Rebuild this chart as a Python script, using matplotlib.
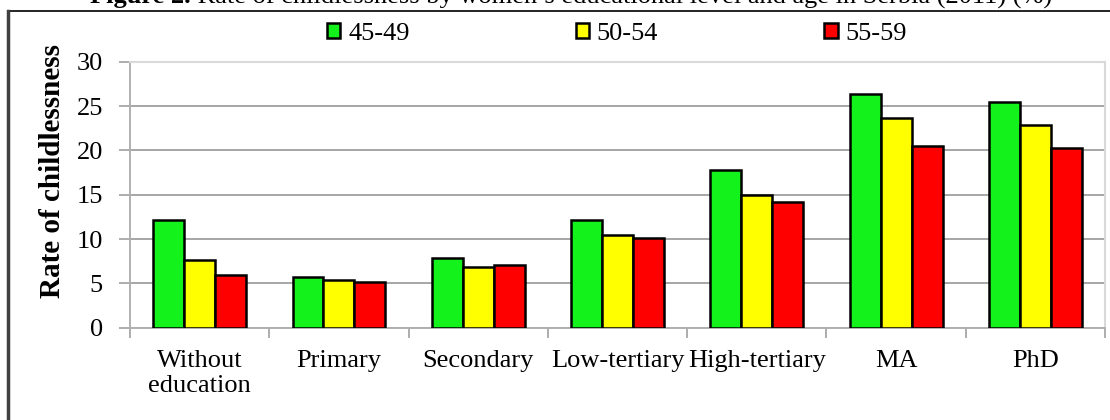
import numpy as np
import matplotlib
matplotlib.use("Agg")
import matplotlib.pyplot as plt
from matplotlib.lines import Line2D

# data
categories = ["Without\neducation", "Primary", "Secondary", "Low-tertiary",
              "High-tertiary", "MA", "PhD"]
age_groups = ["45-49", "50-54", "55-59"]
rate_45_49 = [12.2, 5.7, 7.9, 12.1, 17.8, 26.4, 25.5]
rate_50_54 = [7.6, 5.4, 6.9, 10.4, 15.0, 23.7, 22.9]
rate_55_59 = [6.0, 5.2, 7.1, 10.1, 14.2, 20.5, 20.3]
colors = ["#13f21b", "#ffff00", "#ff0000"]

plt.rcParams['font.family'] = ['Liberation Serif', 'DejaVu Serif']
FS = 19

W, H = 1110, 420
fig = plt.figure(figsize=(W / 100, H / 100), dpi=100)

# axes placed in pixel terms
left, right, top, bottom = 130, 1105, 61.7, 327.7
ax = fig.add_axes([left / W, 1 - bottom / H, (right - left) / W, (bottom - top) / H])

x = np.arange(len(categories))
bw = 1 / 4.5
series = [rate_45_49, rate_50_54, rate_55_59]
for i, (vals, c, lab) in enumerate(zip(series, colors, age_groups)):
    ax.bar(x + (i - 1) * bw, vals, bw, color=c, edgecolor="black",
           linewidth=1.8, label=lab, zorder=3)

ax.set_xlim(-0.5, len(categories) - 0.5)
ax.set_ylim(0, 30)
ax.set_yticks(range(0, 31, 5))
ax.yaxis.grid(True, color="#a6a6a6", linewidth=1.4, zorder=0)
ax.set_axisbelow(True)

ax.set_xticks(x)
ax.set_xticklabels(categories, fontsize=FS, linespacing=1.2)
ax.set_xticks(np.arange(-0.5, len(categories), 1), minor=True)
ax.tick_params(axis="x", which="major", length=0, pad=16)
ax.tick_params(axis="x", which="minor", length=7, width=1.2, color="#a0a0a0")
ax.tick_params(axis="y", length=8, width=1.2, color="#a0a0a0", labelsize=FS, pad=11.5)

for s in ["top", "right"]:
    ax.spines[s].set_color("#d9d9d9")
    ax.spines[s].set_linewidth(1.5)
for s in ["left", "bottom"]:
    ax.spines[s].set_color("#b0b0b0")
    ax.spines[s].set_linewidth(1.4)

fig.text(53 / W, 1 - 171 / H, "Rate of childlessness", rotation=90,
         fontsize=21, fontweight="bold", ha="center", va="center")

leg = fig.legend(loc="center", bbox_to_anchor=(617 / W, 1 - 34 / H), ncol=3,
                 frameon=False, fontsize=FS, handlelength=0.5, handleheight=0.5,
                 handletextpad=0.3, columnspacing=6.3, borderaxespad=0)

# title: bold lead plus regular text, mostly clipped at the top edge
renderer = fig.canvas.get_renderer()
t_y = 1 - 3.5 / H
t1 = fig.text(0, t_y, "Figure 2.", fontsize=FS, fontweight="bold", va="baseline")
t2 = fig.text(0, t_y, " Rate of childlessness by women\u2019s educational level and age in Serbia (2011) (%)",
              fontsize=FS, va="baseline")
w1 = t1.get_window_extent(renderer).width
w2 = t2.get_window_extent(renderer).width
x0 = 571 - (w1 + w2) / 2
t1.set_x(x0 / W)
t2.set_x((x0 + w1) / W)

# outer chart frame
fig.add_artist(Line2D([8 / W, 1], [1 - 11 / H] * 2, transform=fig.transFigure,
                      color="black", linewidth=1.2))
fig.add_artist(Line2D([8 / W] * 2, [0, 1 - 11 / H], transform=fig.transFigure,
                      color="#404040", linewidth=2.5))

fig.savefig("out.png", dpi=100)
